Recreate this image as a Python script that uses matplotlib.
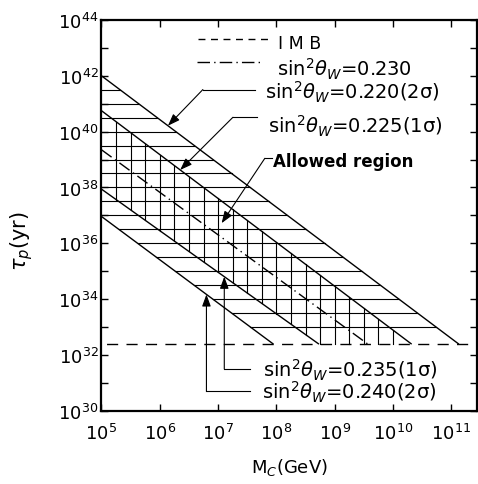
import matplotlib.pyplot as plt
import numpy as np

# log10(tau_p / yr) where each band edge meets M_c = 1e5 GeV,
# and log10(M_c / GeV) where it drops to the IMB limit
imb_log_tau = 32.4
sin2_labels = ['0.220(2σ)', '0.225(1σ)', '0.230', '0.235(1σ)', '0.240(2σ)']
log_tau_start = [42.0, 40.75, 39.35, 37.94, 36.96]
log_m_end = [11.12, 10.31, 9.56, 8.72, 7.94]

x_ticks = [5, 6, 7, 8, 9, 10, 11]
y_ticks = [30, 32, 34, 36, 38, 40, 42, 44]
X_MAX = 11.44


def tau_at(i, lm):
    s, e = log_tau_start[i], log_m_end[i]
    return s + (imb_log_tau - s) * (lm - 5) / (e - 5)


def m_at(i, lt):
    s, e = log_tau_start[i], log_m_end[i]
    return 5 + (lt - s) * (e - 5) / (imb_log_tau - s)


def ax2data(fx, fy):
    return 10 ** (5 + fx * (X_MAX - 5)), 10 ** (30 + fy * 14)


fig = plt.figure(figsize=(4.78, 4.85), dpi=100)
ax = fig.add_axes([0.2123, 0.1511, 0.7856, 0.8056])
ax.set_xscale('log')
ax.set_yscale('log')
ax.set_xlim(1e5, 10 ** X_MAX)
ax.set_ylim(1e30, 1e44)

# band edges
for i in range(5):
    ls = (0, (9, 3, 1, 3)) if i == 2 else '-'
    ax.plot([1e5, 10 ** log_m_end[i]], [10 ** log_tau_start[i], 10 ** imb_log_tau],
            color='black', lw=1.0, linestyle=ls)

# IMB limit
ax.plot([1e5, 10 ** X_MAX], [10 ** imb_log_tau] * 2, color='black', lw=1.0,
        linestyle=(10, (8, 6)))

# horizontal hatching: 2 sigma band
for lt in np.arange(33.0, 41.51, 0.5):
    x0 = max(5.0, m_at(4, lt))
    x1 = m_at(0, lt)
    if x1 > x0:
        ax.plot([10 ** x0, 10 ** x1], [10 ** lt] * 2, color='black', lw=0.8)

# vertical hatching: 1 sigma band
for lm in np.arange(5.25, 10.01, 0.25):
    top = tau_at(1, lm)
    bot = max(tau_at(3, lm), imb_log_tau)
    if top > bot:
        ax.plot([10 ** lm] * 2, [10 ** bot, 10 ** top], color='black', lw=0.8)

# legend-like samples
ax.plot(*ax2data(np.array([0.257, 0.443]), np.array([0.951, 0.951])),
        color='black', lw=1.0, linestyle=(0, (5, 4)))
ax.plot(*ax2data(np.array([0.254, 0.430]), np.array([0.892, 0.892])),
        color='black', lw=1.0, linestyle=(0, (9, 3, 1, 3)))

fs = 14
ax.text(0.470, 0.928, 'I M B', transform=ax.transAxes, fontsize=12.5, va='baseline')


def sin_label(val):
    return r'sin$^2\theta_W$=' + val


ax.text(0.467, 0.859, sin_label(sin2_labels[2]), transform=ax.transAxes, fontsize=fs, va='baseline')
ax.text(0.435, 0.798, sin_label(sin2_labels[0]), transform=ax.transAxes, fontsize=fs, va='baseline')
ax.text(0.443, 0.713, sin_label(sin2_labels[1]), transform=ax.transAxes, fontsize=fs, va='baseline')
ax.text(0.457, 0.627, 'Allowed region', transform=ax.transAxes, fontsize=12,
        fontweight='bold', va='baseline')
ax.text(0.430, 0.088, sin_label(sin2_labels[3]), transform=ax.transAxes, fontsize=fs, va='baseline')
ax.text(0.427, 0.030, sin_label(sin2_labels[4]), transform=ax.transAxes, fontsize=fs, va='baseline')

arrow = dict(arrowstyle='-|>,head_length=0.6,head_width=0.22', color='black',
             lw=0.8, shrinkA=0, shrinkB=0, mutation_scale=12)


def leader(corner, end_fx, tip):
    cx, cy = corner
    ex, _ = ax2data(end_fx, 0)
    ax.plot([cx, ex], [cy, cy], color='black', lw=0.8)
    ax.annotate('', xy=tip, xytext=corner, arrowprops=arrow)


# arrows onto the 0.220 and 0.225 lines
lm = 6.14
leader(ax2data(0.270, 0.822), 0.409, (10 ** lm, 10 ** tau_at(0, lm)))
lm = 6.35
leader(ax2data(0.350, 0.751), 0.414, (10 ** lm, 10 ** tau_at(1, lm)))
# allowed region
leader(ax2data(0.435, 0.646), 0.453, (10 ** 7.06, 10 ** 36.72))
# arrows from below onto 0.235 and 0.240
lm = 7.106
leader((10 ** lm, ax2data(0, 0.107)[1]), 0.395, (10 ** lm, 10 ** tau_at(3, lm)))
lm = 6.80
leader((10 ** lm, ax2data(0, 0.050)[1]), 0.395, (10 ** lm, 10 ** tau_at(4, lm)))

# axes styling
ax.set_xticks([10.0 ** k for k in x_ticks])
ax.set_xticklabels([r'$10^{%d}$' % k for k in x_ticks], fontsize=13)
ax.xaxis.set_minor_locator(plt.NullLocator())
ax.set_yticks([10.0 ** k for k in y_ticks])
ax.set_yticklabels([r'$10^{%d}$' % k for k in y_ticks], fontsize=13)
ax.set_yticks([10.0 ** k for k in range(31, 44, 2)], minor=True)
ax.set_yticklabels([], minor=True)
ax.tick_params(which='both', direction='in', top=True, right=True, length=5, width=1)
ax.tick_params(axis='x', pad=9)
ax.tick_params(axis='y', pad=2)
for sp in ax.spines.values():
    sp.set_linewidth(1.6)

ax.set_xlabel(r'M$_C$(GeV)', fontsize=13, labelpad=9)
ax.text(-0.214, 0.437, r'$\tau_p$(yr)', transform=ax.transAxes, rotation=90,
        fontsize=15, ha='center', va='center')

fig.savefig('out.png', dpi=100)
